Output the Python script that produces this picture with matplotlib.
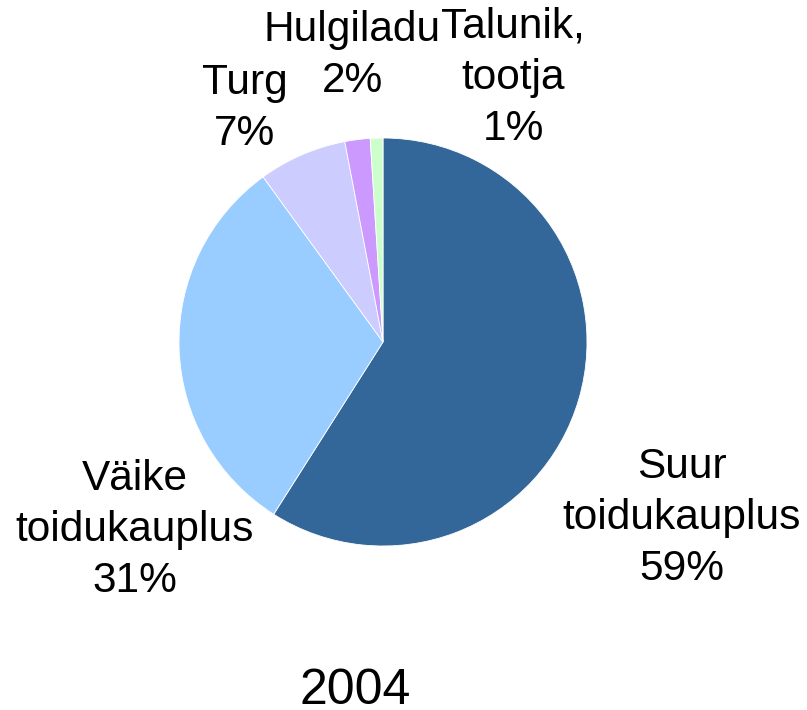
import matplotlib.pyplot as plt

plt.rcParams['font.family'] = ['Liberation Sans', 'DejaVu Sans']

# data
categories = ['Suur\ntoidukauplus', 'Väike\ntoidukauplus', 'Turg', 'Hulgiladu',
              'Talunik,\ntootja']
shares = [59, 31, 7, 2, 1]
colors = ['#336699', '#99CCFF', '#CCCCFF', '#CC99FF', '#CCFFCC']
year = '2004'

W, H = 807, 710
fig = plt.figure(figsize=(W / 100, H / 100), dpi=100)
ax = fig.add_axes([0, 0, 1, 1])

ax.pie(shares, colors=colors, startangle=90, counterclock=False,
       center=(383, H - 342), radius=204,
       wedgeprops=dict(edgecolor='white', linewidth=0.6))

# label anchor points in pixel space (x, last-line baseline from top)
label_pos = [(682, 580), (135, 592), (245, 145), (352, 92), (513, 140)]
for name, val, (x, y) in zip(categories, shares, label_pos):
    ax.text(x, H - y, f'{name}\n{val}%', ha='center', va='baseline',
            fontsize=30.5, linespacing=1.36, multialignment='center')

ax.text(355, H - 704, year, ha='center', va='baseline', fontsize=36)

ax.set_xlim(0, W)
ax.set_ylim(0, H)
ax.set_aspect('equal')
ax.axis('off')

fig.savefig('out.png', dpi=100, facecolor='white')
